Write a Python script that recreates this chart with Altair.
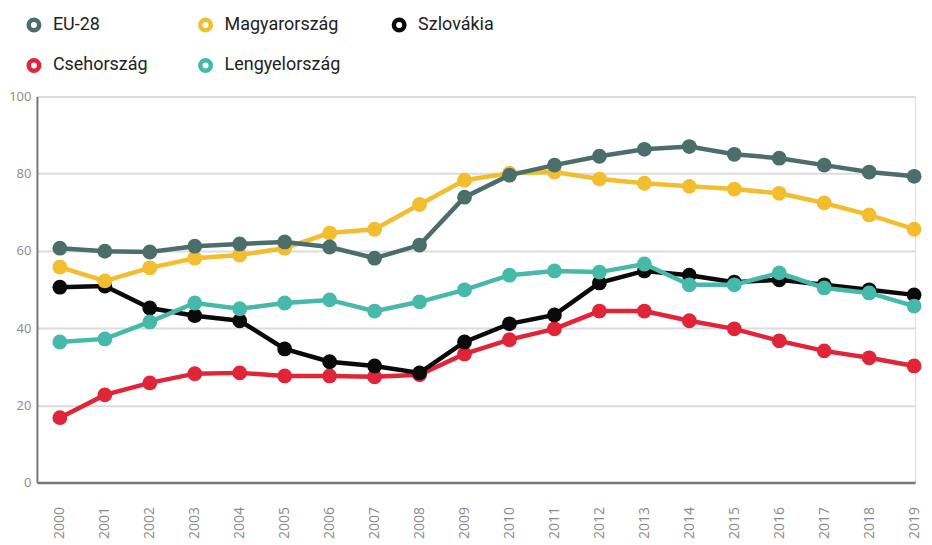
import altair as alt
import pandas as pd

years = list(range(2000, 2020))
series_names = ["EU-28", "Magyarország", "Szlovákia", "Csehország", "Lengyelország"]
series_colors = ["#4b6e6a", "#f2bd2f", "#0a0a0a", "#e02538", "#46b9a9"]

eu28 = [60.7, 59.9, 59.7, 61.2, 61.8, 62.3, 61.0, 58.1, 61.5, 73.9, 79.6, 82.2, 84.5, 86.3, 87.0, 85.0, 84.0, 82.2, 80.4, 79.3]
magyar = [55.8, 52.2, 55.6, 58.1, 58.9, 60.7, 64.6, 65.6, 72.0, 78.3, 80.1, 80.4, 78.6, 77.5, 76.7, 76.0, 74.9, 72.4, 69.3, 65.6]
szlovak = [50.6, 50.9, 45.2, 43.2, 41.9, 34.6, 31.3, 30.2, 28.4, 36.4, 41.1, 43.4, 51.7, 54.8, 53.7, 51.9, 52.5, 51.2, 49.9, 48.6]
cseh = [16.8, 22.7, 25.8, 28.2, 28.4, 27.6, 27.6, 27.4, 27.9, 33.3, 37.0, 39.8, 44.4, 44.4, 41.9, 39.8, 36.7, 34.1, 32.3, 30.2]
lengyel = [36.4, 37.2, 41.6, 46.5, 45.0, 46.5, 47.3, 44.4, 46.8, 49.9, 53.7, 54.8, 54.5, 56.6, 51.2, 51.2, 54.3, 50.4, 49.1, 45.7]

values = {
    "EU-28": eu28,
    "Magyarország": magyar,
    "Szlovákia": szlovak,
    "Csehország": cseh,
    "Lengyelország": lengyel,
}
draw_order = ["Csehország", "Szlovákia", "Lengyelország", "Magyarország", "EU-28"]

rows = []
for s in series_names:
    for y, v in zip(years, values[s]):
        rows.append({"year": y, "value": v, "series": s})
df = pd.DataFrame(rows)

FONT = "Open Sans"
LEGEND_FONT = "Roboto"

x_enc = alt.X(
    "year:Q",
    scale=alt.Scale(domain=[1999.49, 2019.02], nice=False, zero=False),
    axis=alt.Axis(
        values=years, format="d", labelAngle=-90, grid=False, ticks=False,
        domainColor="#77777c", domainWidth=2.5, labelColor="#8a8a8a",
        labelFontSize=14, labelPadding=24, labelFont=FONT, title=None,
        labelBaseline="middle", labelAlign="right",
    ),
)
y_enc = alt.Y(
    "value:Q",
    scale=alt.Scale(domain=[0, 100], nice=False),
    axis=alt.Axis(
        values=[0, 20, 40, 60, 80, 100], grid=True, gridColor="#dcdcdc", gridWidth=2,
        ticks=False, domainColor="#77777c", domainWidth=2, labelColor="#8a8a8a",
        labelFontSize=13, labelPadding=6, labelFont=FONT, title=None,
    ),
)

color_scale = alt.Scale(domain=series_names, range=series_colors)

layers = []
for s in draw_order:
    col = series_colors[series_names.index(s)]
    sub = df[df.series == s]
    line = alt.Chart(sub).mark_line(strokeWidth=4.5).encode(
        x=x_enc, y=y_enc,
        color=alt.Color("series:N", scale=color_scale, legend=alt.Legend(
            title=None, orient="none", legendX=-12, legendY=-81, columns=3,
            symbolType="circle", symbolFillColor="white", symbolStrokeWidth=4.5,
            symbolSize=110, labelFontSize=18, labelFont=LEGEND_FONT, labelColor="#222222",
            columnPadding=43, rowPadding=11, labelOffset=10, direction="horizontal",
        )),
    )
    pts = alt.Chart(sub).mark_circle(size=220, opacity=1, color=col).encode(x=x_enc, y=y_enc)
    layers += [line, pts]

chart = alt.layer(*layers).properties(
    width=880, height=387,
    padding={"left": 0, "top": 7, "right": 0, "bottom": 0},
).configure_view(stroke=None).configure(background="white")

chart.save("out.html", embed_options={"renderer": "svg", "actions": False})
